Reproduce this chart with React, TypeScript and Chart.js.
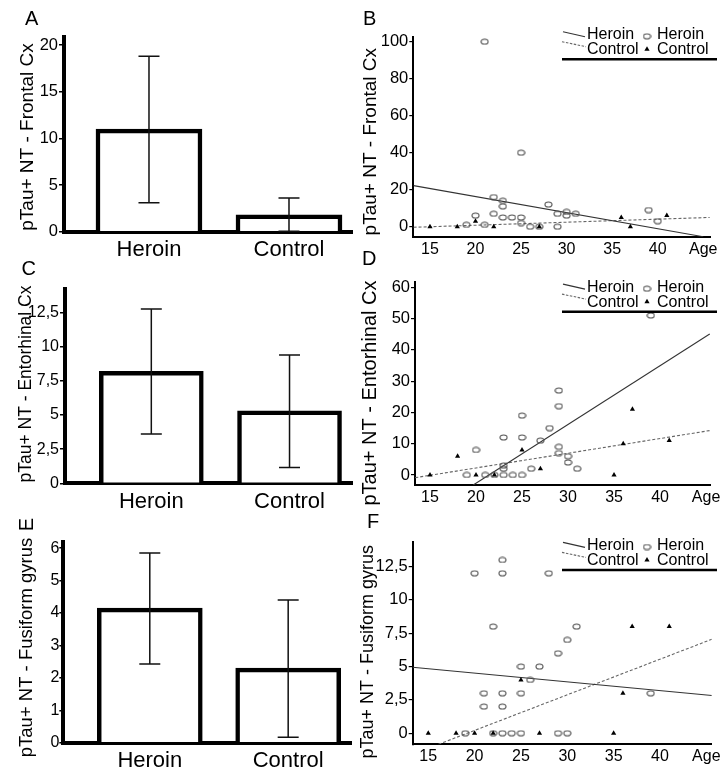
import React, { useEffect, useRef } from 'react';
import { Chart, registerables } from 'chart.js';
Chart.register(...registerables);

const W = 723;
const H = 777;
const FONT = '"Liberation Sans", Arial, Helvetica, sans-serif';

// ---------- bar panels (mean with error bars) ----------
const groups = ['Heroin', 'Control'];
const frontalMean = [11.0, 1.8];
const frontalLow = [3.1, 0.05];
const frontalHigh = [18.8, 3.6];
const entorhinalMean = [8.2, 5.3];
const entorhinalLow = [3.6, 1.15];
const entorhinalHigh = [12.75, 9.4];
const fusiformMean = [4.15, 2.3];
const fusiformLow = [2.43, 0.17];
const fusiformHigh = [5.85, 4.4];

const frontalBarTicks = [0, 5, 10, 15, 20];
const entorhinalBarTicks = [0, 2.5, 5, 7.5, 10, 12.5];
const fusiformBarTicks = [0, 1, 2, 3, 4, 5, 6];

// ---------- scatter panels (value vs age) ----------
const ageTicks = [15, 20, 25, 30, 35, 40, 45];
const ageTickLabels = ['15', '20', '25', '30', '35', '40', 'Age'];

const frontalHeroinAge = [21, 25, 22, 23, 23, 20, 22, 23, 24, 25, 25, 19, 21, 26, 27, 28, 29, 29, 30, 30, 31, 39, 40];
const frontalHeroinVal = [100, 40, 16, 14, 11, 6, 7, 5, 5, 5, 2, 1, 1, 0, 0, 12, 7, 0, 8, 6, 7, 9, 3];
const frontalControlAge = [15, 18, 20, 22, 27, 36, 37, 41];
const frontalControlVal = [0, 0, 3, 0, 0, 5, 0, 6];
const frontalHeroinFitAge = [13.2, 45];
const frontalHeroinFitVal = [22.2, -5.4];
const frontalControlFitAge = [13.2, 45.7];
const frontalControlFitVal = [-0.3, 5.0];
const frontalTicks = [0, 20, 40, 60, 80, 100];

const entorhinalHeroinAge = [39, 29, 29, 25, 28, 23, 25, 27, 29, 20, 29, 30, 30, 23, 23, 26, 31, 19, 21, 22, 23, 24, 25];
const entorhinalHeroinVal = [51, 27, 22, 19, 15, 12, 12, 11, 9, 8, 7, 6, 4, 3, 2, 2, 2, 0, 0, 0, 0, 0, 0];
const entorhinalControlAge = [15, 18, 20, 22, 25, 27, 35, 36, 37, 41];
const entorhinalControlVal = [0, 6, 0, 0, 8, 2, 0, 10, 21, 11];
const entorhinalHeroinFitAge = [19.7, 45.4];
const entorhinalHeroinFitVal = [-3.2, 45.1];
const entorhinalControlFitAge = [13.4, 45.4];
const entorhinalControlFitVal = [-0.85, 14.2];
const entorhinalTicks = [0, 10, 20, 30, 40, 50, 60];

const fusiformHeroinAge = [23, 20, 23, 28, 22, 31, 30, 29, 25, 27, 26, 21, 23, 25, 39, 21, 23, 19, 22, 23, 24, 25, 29, 30];
const fusiformHeroinVal = [13, 12, 12, 12, 8, 8, 7, 6, 5, 5, 4, 3, 3, 3, 3, 2, 2, 0, 0, 0, 0, 0, 0, 0];
const fusiformControlAge = [15, 18, 20, 22, 25, 27, 35, 36, 37, 41];
const fusiformControlVal = [0, 0, 0, 0, 4, 0, 0, 3, 8, 8];
const fusiformHeroinFitAge = [13.3, 45.6];
const fusiformHeroinFitVal = [4.95, 2.83];
const fusiformControlFitAge = [16.1, 45.6];
const fusiformControlFitVal = [-0.83, 7.05];
const fusiformTicks = [0, 2.5, 5, 7.5, 10, 12.5];

// ---------- helpers ----------
const fmt = (v: number) => String(v).replace('.', ',');
const zip = (xs: number[], ys: number[]) => xs.map((x, i) => ({ x, y: ys[i] }));

let ellipseImg: HTMLCanvasElement | null = null;
function getEllipse(): HTMLCanvasElement {
  if (ellipseImg) return ellipseImg;
  const c = document.createElement('canvas');
  c.width = 9;
  c.height = 7;
  const ctx = c.getContext('2d')!;
  ctx.strokeStyle = '#555';
  ctx.lineWidth = 1.15;
  ctx.beginPath();
  ctx.ellipse(4.5, 3.5, 3.5, 2.5, 0, 0, Math.PI * 2);
  ctx.stroke();
  ellipseImg = c;
  return c;
}

type Area = { left: number; top: number; right: number; bottom: number };
type Decor = {
  letter: string;
  letterX: number;
  letterY: number;
  letterRot?: boolean;
  title: string;
  titleX: number;
  titleY: number;
  titleSize: number;
  legendL?: number;
};

function decorPlugin(d: Decor) {
  return {
    id: 'decor',
    afterDraw(chart: any) {
      const ctx: CanvasRenderingContext2D = chart.ctx;
      ctx.save();
      ctx.fillStyle = '#000';
      ctx.font = `${d.titleSize}px ${FONT}`;
      ctx.textAlign = 'center';
      ctx.textBaseline = 'middle';
      ctx.save();
      ctx.translate(d.titleX, d.titleY);
      ctx.rotate(-Math.PI / 2);
      ctx.fillText(d.title, 0, 0);
      ctx.restore();
      ctx.font = `20px ${FONT}`;
      if (d.letterRot) {
        ctx.save();
        ctx.translate(d.letterX, d.letterY);
        ctx.rotate(-Math.PI / 2);
        ctx.fillText(d.letter, 0, 0);
        ctx.restore();
      } else {
        ctx.textAlign = 'left';
        ctx.textBaseline = 'alphabetic';
        ctx.fillText(d.letter, d.letterX, d.letterY);
      }
      if (d.legendL !== undefined) {
        const L = d.legendL;
        ctx.strokeStyle = '#333';
        ctx.lineWidth = 1.1;
        ctx.beginPath();
        ctx.moveTo(563, L - 27.6);
        ctx.lineTo(585, L - 22.6);
        ctx.stroke();
        ctx.strokeStyle = '#666';
        ctx.setLineDash([2.5, 1.5]);
        ctx.beginPath();
        ctx.moveTo(562, L - 17.6);
        ctx.lineTo(586, L - 12.6);
        ctx.stroke();
        ctx.setLineDash([]);
        ctx.font = `16px ${FONT}`;
        ctx.textAlign = 'left';
        ctx.textBaseline = 'alphabetic';
        ctx.fillStyle = '#000';
        ctx.fillText(groups[0], 587, L - 20);
        ctx.fillText(groups[1], 587, L - 5);
        ctx.fillText(groups[0], 657, L - 20);
        ctx.fillText(groups[1], 657, L - 5);
        const e = getEllipse();
        ctx.drawImage(e, 647 - e.width / 2, L - 23 - e.height / 2);
        const r = 3;
        const tx = 647, ty = L - 10;
        ctx.beginPath();
        ctx.moveTo(tx, ty - r);
        ctx.lineTo(tx + r * 0.866, ty + r * 0.5);
        ctx.lineTo(tx - r * 0.866, ty + r * 0.5);
        ctx.closePath();
        ctx.fill();
        ctx.strokeStyle = '#000';
        ctx.lineWidth = 2.6;
        ctx.beginPath();
        ctx.moveTo(562, L);
        ctx.lineTo(717, L);
        ctx.stroke();
      }
      ctx.restore();
    },
  };
}

function errorBarPlugin(low: number[], high: number[]) {
  return {
    id: 'errbars',
    afterDatasetsDraw(chart: any) {
      const ctx: CanvasRenderingContext2D = chart.ctx;
      const xs = chart.scales.x;
      const ys = chart.scales.y;
      ctx.save();
      ctx.strokeStyle = '#111';
      ctx.lineWidth = 1.5;
      low.forEach((lo, i) => {
        const x = xs.getPixelForValue(i + 1);
        const y1 = ys.getPixelForValue(lo);
        const y2 = ys.getPixelForValue(high[i]);
        ctx.beginPath();
        ctx.moveTo(x, y1);
        ctx.lineTo(x, y2);
        ctx.moveTo(x - 10.5, y2);
        ctx.lineTo(x + 10.5, y2);
        ctx.moveTo(x - 10.5, y1);
        ctx.lineTo(x + 10.5, y1);
        ctx.stroke();
      });
      ctx.restore();
    },
  };
}

function padding(a: Area, wy: number, hx: number) {
  return { left: a.left - wy, top: a.top, right: W - a.right, bottom: H - a.bottom - hx };
}
const fixW = (wy: number) => (s: any) => {
  s.width = wy;
  s.paddingTop = 0;
  s.paddingBottom = 0;
  s.paddingLeft = 0;
  s.paddingRight = 0;
};
const fixH = (hx: number) => (s: any) => {
  s.height = hx;
  s.paddingTop = 0;
  s.paddingBottom = 0;
  s.paddingLeft = 0;
  s.paddingRight = 0;
};

type BarPanel = {
  area: Area;
  mean: number[];
  low: number[];
  high: number[];
  yMax: number;
  yTicks: number[];
  xMin: number;
  xMax: number;
  thickness: number;
  tickSize: number;
  tickLen: number;
  tickPad: number;
  decor: Decor;
};

function makeBar(canvas: HTMLCanvasElement, p: BarPanel) {
  const WY = 55, HX = 34;
  return new Chart(canvas, {
    type: 'bar',
    data: {
      datasets: [
        {
          data: p.mean.map((v, i) => ({ x: i + 1, y: v })),
          backgroundColor: '#fff',
          borderColor: '#000',
          borderWidth: 4.5,
          barThickness: p.thickness,
        } as any,
      ],
    },
    options: {
      responsive: false,
      animation: false,
      devicePixelRatio: 1,
      layout: { padding: padding(p.area, WY, HX) },
      plugins: { legend: { display: false }, tooltip: { enabled: false } },
      scales: {
        x: {
          type: 'linear',
          offset: false,
          min: p.xMin,
          max: p.xMax,
          z: 1,
          afterFit: fixH(HX),
          afterBuildTicks: (s: any) => { s.ticks = groups.map((_, i) => ({ value: i + 1 })); },
          ticks: {
            callback: (v: any) => groups[Math.round(Number(v)) - 1] ?? '',
            font: { size: 22, family: FONT },
            color: '#000',
            padding: 5,
            autoSkip: false,
            maxRotation: 0,
            minRotation: 0,
          },
          grid: { display: false, drawTicks: false, offset: false },
          border: { display: true, color: '#000', width: 4 },
        },
        y: {
          type: 'linear',
          min: 0,
          max: p.yMax,
          afterFit: fixW(WY),
          afterBuildTicks: (s: any) => { s.ticks = p.yTicks.map((v) => ({ value: v })); },
          ticks: {
            callback: (v: any) => fmt(Number(v)),
            font: { size: p.tickSize, family: FONT },
            color: '#000',
            padding: p.tickPad,
          },
          grid: { display: true, drawOnChartArea: false, drawTicks: true, tickLength: p.tickLen, color: '#000', lineWidth: 1.5 },
          border: { display: true, color: '#000', width: 4 },
        },
      },
    } as any,
    plugins: [errorBarPlugin(p.low, p.high), decorPlugin(p.decor)],
  });
}

type ScatterPanel = {
  area: Area;
  heroin: { x: number; y: number }[];
  control: { x: number; y: number }[];
  heroinFit: { x: number; y: number }[];
  controlFit: { x: number; y: number }[];
  xMin: number;
  xMax: number;
  yMin: number;
  yMax: number;
  yTicks: number[];
  decor: Decor;
};

function makeScatter(canvas: HTMLCanvasElement, p: ScatterPanel) {
  const WY = 40, HX = 30;
  return new Chart(canvas, {
    type: 'scatter',
    data: {
      datasets: [
        {
          data: p.control,
          pointStyle: 'triangle',
          pointRadius: 3,
          backgroundColor: '#000',
          borderColor: '#000',
          borderWidth: 0,
        },
        {
          data: p.heroin,
          pointStyle: getEllipse(),
          pointRadius: 4,
          backgroundColor: 'rgba(0,0,0,0)',
          borderColor: '#555',
        },
        {
          data: p.heroinFit,
          showLine: true,
          pointRadius: 0,
          borderColor: '#333',
          borderWidth: 1.1,
        },
        {
          data: p.controlFit,
          showLine: true,
          pointRadius: 0,
          borderColor: '#666',
          borderWidth: 1.1,
          borderDash: [3, 2],
        },
      ] as any,
    },
    options: {
      responsive: false,
      animation: false,
      devicePixelRatio: 1,
      layout: { padding: padding(p.area, WY, HX) },
      plugins: { legend: { display: false }, tooltip: { enabled: false } },
      scales: {
        x: {
          type: 'linear',
          min: p.xMin,
          max: p.xMax,
          afterFit: fixH(HX),
          afterBuildTicks: (s: any) => { s.ticks = ageTicks.map((v) => ({ value: v })); },
          ticks: {
            callback: (v: any) => ageTickLabels[ageTicks.indexOf(Number(v))] ?? '',
            font: { size: 16, family: FONT },
            color: '#000',
            padding: 3,
            autoSkip: false,
            maxRotation: 0,
            minRotation: 0,
          },
          grid: { display: false, drawTicks: false },
          border: { display: true, color: '#000', width: 2 },
        },
        y: {
          type: 'linear',
          min: p.yMin,
          max: p.yMax,
          afterFit: fixW(WY),
          afterBuildTicks: (s: any) => { s.ticks = p.yTicks.map((v) => ({ value: v })); },
          ticks: {
            callback: (v: any) => fmt(Number(v)),
            font: { size: 16.5, family: FONT },
            color: '#000',
            padding: 1,
          },
          grid: { display: true, drawOnChartArea: false, drawTicks: true, tickLength: 4, color: '#000', lineWidth: 1.2 },
          border: { display: true, color: '#000', width: 2 },
        },
      },
    } as any,
    plugins: [decorPlugin(p.decor)],
  });
}

const barPanels: BarPanel[] = [
  {
    area: { left: 64, top: 36.7, right: 352, bottom: 231.7 },
    mean: frontalMean, low: frontalLow, high: frontalHigh,
    yMax: 20.9, yTicks: frontalBarTicks, xMin: 0.393, xMax: 2.45, thickness: 106,
    tickSize: 16.5, tickLen: 5, tickPad: 1,
    decor: { letter: 'A', letterX: 25, letterY: 25, title: 'pTau+ NT - Frontal Cx', titleX: 28, titleY: 137, titleSize: 19 },
  },
  {
    area: { left: 65, top: 289.3, right: 352, bottom: 483.3 },
    mean: entorhinalMean, low: entorhinalLow, high: entorhinalHigh,
    yMax: 14.2, yTicks: entorhinalBarTicks, xMin: 0.3755, xMax: 2.452, thickness: 104,
    tickSize: 16, tickLen: 5, tickPad: 1,
    decor: { letter: 'C', letterX: 21.5, letterY: 275, title: 'pTau+ NT - Entorhinal Cx', titleX: 26, titleY: 384, titleSize: 17.5 },
  },
  {
    area: { left: 63.3, top: 541.7, right: 351.7, bottom: 742.7 },
    mean: fusiformMean, low: fusiformLow, high: fusiformHigh,
    yMax: 6.2, yTicks: fusiformBarTicks, xMin: 0.375, xMax: 2.459, thickness: 105,
    tickSize: 16, tickLen: 4, tickPad: 0,
    decor: { letter: 'E', letterX: 27, letterY: 524.5, letterRot: true, title: 'pTau+ NT - Fusiform gyrus', titleX: 27, titleY: 647.5, titleSize: 18.5 },
  },
];

const scatterPanels: ScatterPanel[] = [
  {
    area: { left: 413.3, top: 36.7, right: 710, bottom: 236.7 },
    heroin: zip(frontalHeroinAge, frontalHeroinVal),
    control: zip(frontalControlAge, frontalControlVal),
    heroinFit: zip(frontalHeroinFitAge, frontalHeroinFitVal),
    controlFit: zip(frontalControlFitAge, frontalControlFitVal),
    xMin: 13.17, xMax: 45.74, yMin: -5.4, yMax: 102.7, yTicks: frontalTicks,
    decor: { letter: 'B', letterX: 363, letterY: 25, title: 'pTau+ NT - Frontal Cx', titleX: 370.5, titleY: 141.7, titleSize: 19, legendL: 59.3 },
  },
  {
    area: { left: 415, top: 281.7, right: 710, bottom: 485 },
    heroin: zip(entorhinalHeroinAge, entorhinalHeroinVal),
    control: zip(entorhinalControlAge, entorhinalControlVal),
    heroinFit: zip(entorhinalHeroinFitAge, entorhinalHeroinFitVal),
    controlFit: zip(entorhinalControlFitAge, entorhinalControlFitVal),
    xMin: 13.37, xMax: 45.43, yMin: -3.2, yMax: 61.8, yTicks: entorhinalTicks,
    decor: { letter: 'D', letterX: 362, letterY: 265, title: 'pTau+ NT - Entorhinal Cx', titleX: 370, titleY: 393, titleSize: 20, legendL: 311.7 },
  },
  {
    area: { left: 412.7, top: 541.7, right: 711.7, bottom: 744.3 },
    heroin: zip(fusiformHeroinAge, fusiformHeroinVal),
    control: zip(fusiformControlAge, fusiformControlVal),
    heroinFit: zip(fusiformHeroinFitAge, fusiformHeroinFitVal),
    controlFit: zip(fusiformControlFitAge, fusiformControlFitVal),
    xMin: 13.32, xMax: 45.58, yMin: -0.83, yMax: 14.37, yTicks: fusiformTicks,
    decor: { letter: 'F', letterX: 367, letterY: 528, title: 'pTau+ NT - Fusiform gyrus', titleX: 368, titleY: 651.7, titleSize: 18, legendL: 570 },
  },
];

function ChartCanvas({ make }: { make: (c: HTMLCanvasElement) => Chart }) {
  const ref = useRef<HTMLCanvasElement>(null);
  useEffect(() => {
    const chart = make(ref.current!);
    return () => chart.destroy();
  }, []);
  return (
    <canvas
      ref={ref}
      width={W}
      height={H}
      style={{ position: 'absolute', left: 0, top: 0, width: W, height: H }}
    />
  );
}

export default function App() {
  return (
    <div style={{ position: 'absolute', left: 0, top: 0, width: W, height: H, background: '#fff', overflow: 'hidden' }}>
      {barPanels.map((p, i) => (
        <ChartCanvas key={'bar' + i} make={(c) => makeBar(c, p)} />
      ))}
      {scatterPanels.map((p, i) => (
        <ChartCanvas key={'sc' + i} make={(c) => makeScatter(c, p)} />
      ))}
    </div>
  );
}
